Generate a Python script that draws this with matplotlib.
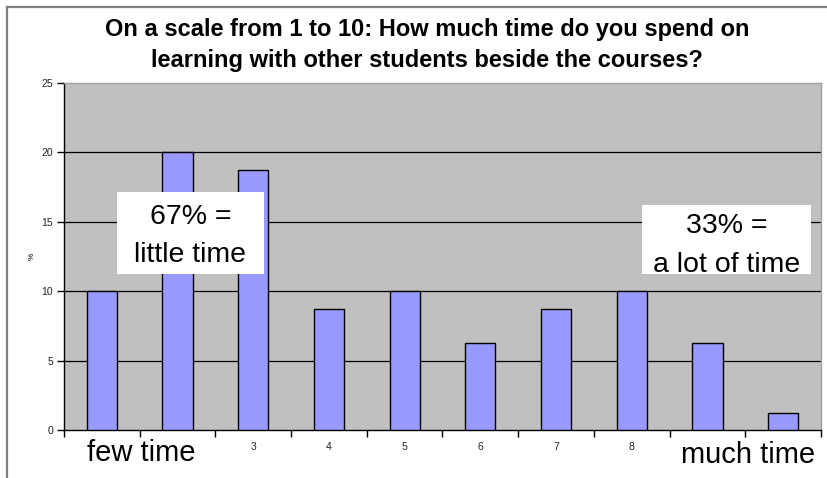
import matplotlib
matplotlib.use("Agg")
import matplotlib.pyplot as plt
from matplotlib.lines import Line2D
from matplotlib.patches import Rectangle
import numpy as np

plt.rcParams['font.family'] = ['Liberation Sans', 'DejaVu Sans']

categories = [1, 2, 3, 4, 5, 6, 7, 8, 9, 10]
values = [10, 20, 18.75, 8.75, 10, 6.25, 8.75, 10, 6.25, 1.25]
tick_labels = ['', '', '3', '4', '5', '6', '7', '8', '', '']
title = "On a scale from 1 to 10: How much time do you spend on\nlearning with other students beside the courses?"

W, H = 828, 478
fig = plt.figure(figsize=(W / 100, H / 100), dpi=100)
fig.patch.set_facecolor('white')

def fx(px):
    return px / W

def fy(py):
    return 1 - py / H

ax = fig.add_axes([fx(64), fy(430), fx(821) - fx(64), fy(83) - fy(430)])
ax.set_facecolor('#C0C0C0')

x = np.arange(len(categories))
ax.bar(x, values, width=0.4, color='#9999FF', edgecolor='black', linewidth=1.0, zorder=3)

ax.set_xlim(-0.5, len(categories) - 0.5)
ax.set_ylim(0, 25)
ax.set_yticks([0, 5, 10, 15, 20, 25])
ax.tick_params(axis='y', labelsize=7.5, length=5, width=1, color='black', pad=3, labelcolor='#222222')
for v in [5, 10, 15, 20]:
    ax.axhline(v, color='black', linewidth=0.9, zorder=1)

ax.set_xticks(x)
ax.set_xticklabels(tick_labels)
ax.tick_params(axis='x', which='major', length=0, labelsize=7.5, pad=9, labelcolor='#222222')
ax.set_xticks(np.arange(-0.5, len(categories) + 0.5, 1), minor=True)
ax.tick_params(axis='x', which='minor', length=5, width=1, color='black')

ax.spines['left'].set_color('black')
ax.spines['bottom'].set_color('black')
ax.spines['top'].set_color('#A0A0A0')
ax.spines['right'].set_color('#A0A0A0')
for s in ax.spines.values():
    s.set_linewidth(1.0)

ax.set_ylabel('%', fontsize=6, labelpad=4)

fig.text(fx(427), fy(45), title, ha='center', va='center', fontsize=17,
         fontweight='bold', linespacing=1.42)

fig.text(fx(141), fy(453), 'few time', ha='center', va='center', fontsize=21)
fig.text(fx(748), fy(455), 'much time', ha='center', va='center', fontsize=21)

# annotation boxes
for (x0, y0, x1, y1, txt, yc) in [(117, 192, 264, 274, '67% =\nlittle time', 236),
                                   (642, 205, 811, 274, '33% =\na lot of time', 246)]:
    fig.patches.append(Rectangle((fx(x0), fy(y1)), fx(x1) - fx(x0), fy(y0) - fy(y1),
                                 transform=fig.transFigure, facecolor='white',
                                 edgecolor='none', zorder=5))
    fig.text(fx((x0 + x1) / 2), fy(yc), txt, ha='center', va='center',
             fontsize=20.5, linespacing=1.65, zorder=6)

# outer frame (cropped on right and bottom)
fig.add_artist(Line2D([fx(7), 1.0], [fy(7), fy(7)], transform=fig.transFigure,
                      color='#808080', linewidth=1.6))
fig.add_artist(Line2D([fx(7), fx(7)], [fy(7), 0.0], transform=fig.transFigure,
                      color='#808080', linewidth=1.6))

fig.savefig('out.png', dpi=100)
